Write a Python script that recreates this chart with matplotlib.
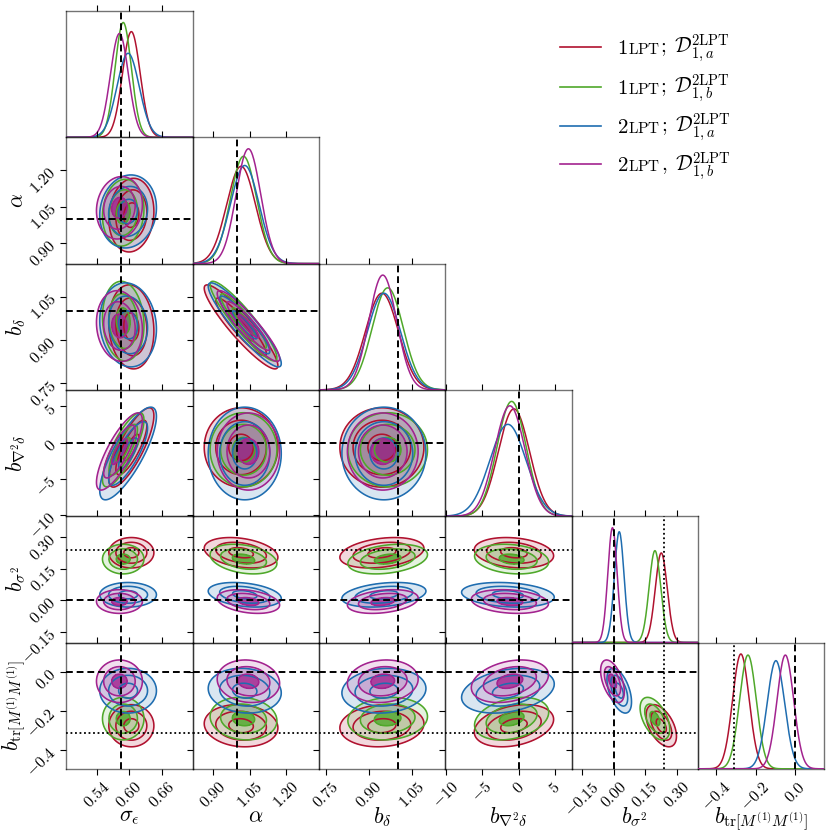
import numpy as np
import matplotlib
matplotlib.use('Agg')
import matplotlib.pyplot as plt
from matplotlib.offsetbox import TextArea, HPacker, AnchoredOffsetbox
from matplotlib.lines import Line2D
from matplotlib.colors import to_rgba

# ---------------- data ----------------
axis_labels = [r'$\sigma_\epsilon$', r'$\alpha$', r'$b_\delta$', r'$b_{\nabla^2\delta}$',
               r'$b_{\sigma^2}$', r'$b_{\mathrm{tr}[M^{(1)}M^{(1)}]}$']

axis_limits = [(0.484, 0.717), (0.817, 1.333), (0.727, 1.164), (-10.1, 7.28),
               (-0.199, 0.399), (-0.494, 0.148)]
tick_values = [[0.54, 0.60, 0.66], [0.90, 1.05, 1.20], [0.75, 0.90, 1.05],
               [-10, -5, 0, 5], [-0.15, 0.0, 0.15, 0.30], [-0.4, -0.2, 0.0]]
tick_labels = [["0.54", "0.60", "0.66"], ["0.90", "1.05", "1.20"], ["0.75", "0.90", "1.05"],
               ["-10", "-5", "0", "5"], ["-0.15", "0.00", "0.15", "0.30"], ["-0.4", "-0.2", "0.0"]]

truth_dashed = [0.5857, 1.0, 1.0, 0.0, 0.0, 0.0]
truth_dotted = [None, None, None, None, 0.24, -0.31]

series_names = ["1LPT; a", "1LPT; b", "2LPT; a", "2LPT, b"]
legend_lead = ["1", "1", "2", "2"]
legend_sep = [";", ";", ";", ","]
legend_sub = ["a", "b", "a", "b"]

mean_1lpt_a = [0.604, 1.015, 0.945, -0.64, 0.226, -0.275]
sigma_1lpt_a = [0.0163, 0.059, 0.057, 2.14, 0.0282, 0.042]
mean_1lpt_b = [0.589, 1.025, 0.965, -0.96, 0.196, -0.239]
sigma_1lpt_b = [0.0150, 0.0535, 0.054, 2.00, 0.0275, 0.0424]
mean_2lpt_a = [0.598, 1.030, 0.952, -1.47, 0.027, -0.097]
sigma_2lpt_a = [0.0205, 0.0585, 0.057, 2.50, 0.0228, 0.0446]
mean_2lpt_b = [0.582, 1.045, 0.948, -1.20, -0.005, -0.049]
sigma_2lpt_b = [0.0166, 0.050, 0.048, 2.08, 0.022, 0.0424]

correlation = [
    [1.0, 0.10, -0.10, 0.80, 0.00, 0.00],
    [0.10, 1.0, -0.92, 0.00, -0.30, -0.10],
    [-0.10, -0.92, 1.0, 0.00, 0.30, 0.10],
    [0.80, 0.00, 0.00, 1.0, -0.20, 0.30],
    [0.00, -0.30, 0.30, -0.20, 1.0, -0.50],
    [0.00, -0.10, 0.10, 0.30, -0.50, 1.0],
]

means = [mean_1lpt_a, mean_1lpt_b, mean_2lpt_a, mean_2lpt_b]
sigmas = [sigma_1lpt_a, sigma_1lpt_b, sigma_2lpt_a, sigma_2lpt_b]

# ---------------- style ----------------
colors = ['#b0122f', '#4fa82a', '#1f6db0', '#a3238f']
# per-series shading of the bands (outer, middle, core)
fill_alphas = [[0.16, 0.16, 0.16], [0.15, 0.3, 0.85], [0.17, 0.17, 0.17], [0.15, 0.3, 0.85]]
sig_levels = [2.55, 1.75, 0.85]

plt.rcParams['mathtext.fontset'] = 'cm'
plt.rcParams['font.family'] = ['DejaVu Serif']

W, H = 830, 835
fig = plt.figure(figsize=(W / 100, H / 100), dpi=100)
n = 6
x0, y0, cell = 66.3, 11.0, 126.3
spine_col = (0, 0, 0, 0.55)


def mtext(s):
    return '$' + s + '$'


for i in range(n):
    for j in range(i + 1):
        l = (x0 + j * cell) / W
        b = 1 - (y0 + (i + 1) * cell) / H
        ax = fig.add_axes([l, b, cell / W, cell / H])
        ax.set_facecolor('none')
        for sp in ax.spines.values():
            sp.set_color(spine_col)
            sp.set_linewidth(1.0)
        ax.set_xlim(axis_limits[j])
        ax.set_xticks(tick_values[j])
        ax.set_xticklabels([mtext(t) for t in tick_labels[j]])
        last = (i == n - 1)
        ax.tick_params(axis='x', which='both', direction='out', length=4, width=0.8,
                       top=True, bottom=last, labeltop=False, labelbottom=last,
                       labelsize=11.5, pad=3)
        if last:
            for t in ax.get_xticklabels():
                t.set_rotation(45)
                t.set_ha('center')
                t.set_va('top')
            ax.set_xlabel(axis_labels[j], fontsize=16)
            ax.xaxis.set_label_coords(0.5, -0.29)
        xg = np.linspace(axis_limits[j][0], axis_limits[j][1], 300)
        if i == j:
            ax.set_yticks([])
            peaks = []
            for k in range(4):
                m, s = means[k][j], sigmas[k][j]
                pdf = np.exp(-0.5 * ((xg - m) / s) ** 2) / (s * np.sqrt(2 * np.pi))
                peaks.append(pdf.max())
                ax.plot(xg, pdf, color=colors[k], lw=1.1, zorder=2 + k)
            ax.set_ylim(0, 1.1 * max(peaks))
        else:
            ax.set_ylim(axis_limits[i])
            ax.set_yticks(tick_values[i])
            ax.set_yticklabels([mtext(t) for t in tick_labels[i]])
            ax.tick_params(axis='y', direction='out', length=4, width=0.8,
                           left=True, right=False, labelleft=(j == 0), labelsize=11.5, pad=5)
            if j == 0:
                for t in ax.get_yticklabels():
                    t.set_rotation(45)
                    t.set_rotation_mode('anchor')
                    t.set_ha('right')
                    t.set_va('center')
                ax.set_ylabel(axis_labels[i], fontsize=15.5)
                ax.yaxis.set_label_coords(-0.30, 0.5)
            yg = np.linspace(axis_limits[i][0], axis_limits[i][1], 300)
            X, Y = np.meshgrid(xg, yg)
            lev = [np.exp(-0.5 * s ** 2) for s in sig_levels]
            for k in range(4):
                mx, sx = means[k][j], sigmas[k][j]
                my, sy = means[k][i], sigmas[k][i]
                rho = correlation[i][j]
                u = (X - mx) / sx
                v = (Y - my) / sy
                r2 = (u * u - 2 * rho * u * v + v * v) / (1 - rho ** 2)
                Z = np.exp(-0.5 * r2)
                ax.contourf(X, Y, Z, levels=lev + [1.01],
                            colors=[to_rgba(colors[k], a) for a in fill_alphas[k]],
                            zorder=2 + 0.1 * k)
                ax.contour(X, Y, Z, levels=lev, colors=[colors[k]], linewidths=1.15,
                           zorder=5 + 0.1 * k)
            ax.axhline(truth_dashed[i], color='k', lw=1.4, ls=(0, (3.5, 2)), zorder=20)
            if truth_dotted[i] is not None:
                ax.axhline(truth_dotted[i], color='k', lw=1.3, ls=(0, (1, 1.5)), zorder=20)
        ax.axvline(truth_dashed[j], color='k', lw=1.4, ls=(0, (3.5, 2)), zorder=20)
        if truth_dotted[j] is not None:
            ax.axvline(truth_dotted[j], color='k', lw=1.3, ls=(0, (1, 1.5)), zorder=20)

# ---------------- legend ----------------
leg_y = [46.7, 86.7, 125.7, 164.3]
for k in range(4):
    yy = 1 - leg_y[k] / H
    fig.add_artist(Line2D([560 / W, 601 / W], [yy, yy], color=colors[k], lw=1.2,
                          transform=fig.transFigure))
    parts = [
        TextArea(mtext(legend_lead[k]), textprops=dict(size=15)),
        TextArea(mtext(r'\mathrm{LPT}'), textprops=dict(size=11)),
        TextArea(mtext(legend_sep[k] + r'\;\mathcal{D}^{2\mathrm{LPT}}_{1,' + legend_sub[k] + '}'),
                 textprops=dict(size=15)),
    ]
    hp = HPacker(children=parts, align='baseline', pad=0, sep=0)
    box = AnchoredOffsetbox(loc='center left', child=hp, pad=0, borderpad=0, frameon=False,
                            bbox_to_anchor=(617 / W, 1 - (leg_y[k] + 2) / H),
                            bbox_transform=fig.transFigure)
    fig.add_artist(box)

fig.savefig('out.png', dpi=100)
